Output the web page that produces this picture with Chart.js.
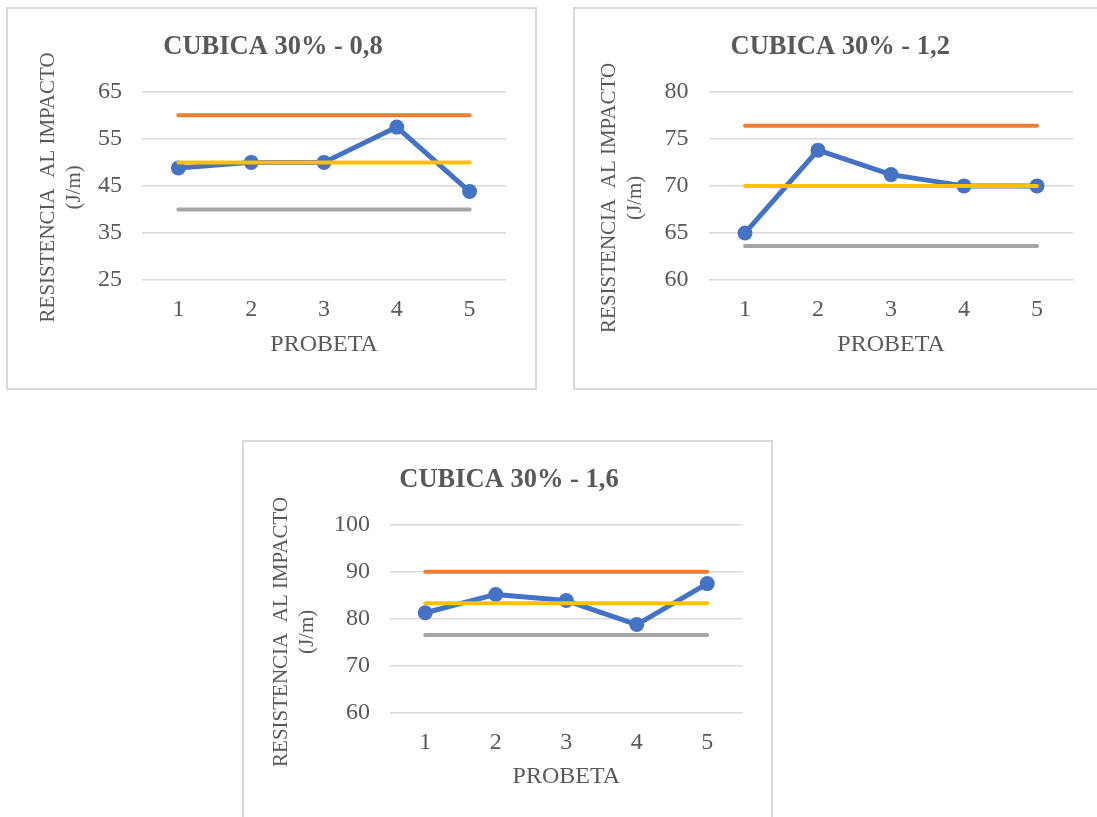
<!DOCTYPE html>
<html lang="es">
<head>
<meta charset="utf-8">
<title>Resistencia al impacto – Cúbica 30%</title>
<script src="https://cdn.jsdelivr.net/npm/chart.js@4.4.1/dist/chart.umd.min.js"></script>
<style>
  html, body { margin: 0; padding: 0; background: #fff; width: 1097px; height: 817px; overflow: hidden; }
  .marco { position: absolute; box-sizing: border-box; border: 2px solid #d9d9d9; background: #fff; }
  .marco canvas { position: absolute; left: 0; top: 0; }
</style>
</head>
<body>
<div class="marco" style="left:6px; top:7px; width:531px; height:383px;">
  <canvas id="g08" width="527" height="379"></canvas>
</div>
<div class="marco" style="left:573px; top:7px; width:531px; height:383px;">
  <canvas id="g12" width="527" height="379"></canvas>
</div>
<div class="marco" style="left:242px; top:440px; width:531px; height:383px;">
  <canvas id="g16" width="527" height="379"></canvas>
</div>

<script>
// Probetas ensayadas (eje X)
const probetas = ['1', '2', '3', '4', '5'];

// Cúbica 30% – 0,8
const resistencia08 = [48.8, 50.0, 50.0, 57.5, 43.8];
const limiteSup08   = [60.0, 60.0, 60.0, 60.0, 60.0];
const promedio08    = [50.0, 50.0, 50.0, 50.0, 50.0];
const limiteInf08   = [40.0, 40.0, 40.0, 40.0, 40.0];
const ejeY08        = [25, 35, 45, 55, 65];

// Cúbica 30% – 1,2
const resistencia12 = [65.0, 73.8, 71.2, 70.0, 70.0];
const limiteSup12   = [76.4, 76.4, 76.4, 76.4, 76.4];
const promedio12    = [70.0, 70.0, 70.0, 70.0, 70.0];
const limiteInf12   = [63.6, 63.6, 63.6, 63.6, 63.6];
const ejeY12        = [60, 65, 70, 75, 80];

// Cúbica 30% – 1,6
const resistencia16 = [81.3, 85.2, 83.9, 78.8, 87.5];
const limiteSup16   = [90.0, 90.0, 90.0, 90.0, 90.0];
const promedio16    = [83.3, 83.3, 83.3, 83.3, 83.3];
const limiteInf16   = [76.6, 76.6, 76.6, 76.6, 76.6];
const ejeY16        = [60, 70, 80, 90, 100];

const tituloEjeY = ['RESISTENCIA  AL IMPACTO', '(J/m)'];
const tituloEjeX = 'PROBETA';

const SERIF = "'Liberation Serif', 'Times New Roman', serif";
const GRIS_TEXTO = '#595959';

// Título del eje Y en dos líneas, girado 90°
const rotuloVertical = {
  id: 'rotuloVertical',
  afterDraw(chart, args, opts) {
    const { ctx, chartArea } = chart;
    const cy = (chartArea.top + chartArea.bottom) / 2 + opts.desplazamiento;
    ctx.save();
    ctx.font = '21px ' + SERIF;
    ctx.fillStyle = GRIS_TEXTO;
    ctx.textAlign = 'center';
    ctx.textBaseline = 'middle';
    tituloEjeY.forEach((linea, i) => {
      ctx.save();
      ctx.translate(opts.x + i * 26, cy);
      ctx.rotate(-Math.PI / 2);
      ctx.fillText(linea, 0, 0);
      ctx.restore();
    });
    ctx.restore();
  }
};

function serieHorizontal(etiqueta, datos, color, orden) {
  return {
    label: etiqueta,
    data: datos,
    borderColor: color,
    backgroundColor: color,
    borderWidth: 4,
    borderCapStyle: 'round',
    pointRadius: 0,
    pointHoverRadius: 0,
    tension: 0,
    order: orden
  };
}

function crearGrafico(id, titulo, valores, sup, prom, inf, ejeY, ajuste) {
  new Chart(document.getElementById(id), {
    type: 'line',
    data: {
      labels: probetas,
      datasets: [
        {
          label: 'Resistencia al impacto',
          data: valores,
          borderColor: '#4472C4',
          backgroundColor: '#4472C4',
          borderWidth: 5,
          borderJoinStyle: 'round',
          pointRadius: 7.5,
          pointHoverRadius: 7.5,
          pointBorderWidth: 0,
          tension: 0,
          order: 4
        },
        serieHorizontal('Límite superior', sup, '#ED7D31', 3),
        serieHorizontal('Promedio', prom, '#FFC000', 2),
        serieHorizontal('Límite inferior', inf, '#A5A5A5', 1)
      ]
    },
    options: {
      responsive: false,
      animation: false,
      devicePixelRatio: 1,
      layout: { padding: { left: ajuste.izq, right: ajuste.der, top: 0, bottom: 0 } },
      plugins: {
        legend: { display: false },
        tooltip: { enabled: false },
        title: {
          display: true,
          text: titulo,
          color: GRIS_TEXTO,
          font: { family: SERIF, size: 26.5, weight: 'bold', lineHeight: 1.2 },
          padding: { top: 22.5, bottom: 28.5 }
        },
        rotuloVertical: { x: ajuste.xTitulo, desplazamiento: ajuste.desplazamiento }
      },
      scales: {
        x: {
          type: 'category',
          offset: true,
          grid: { display: false },
          border: { display: false },
          ticks: { color: GRIS_TEXTO, font: { family: SERIF, size: 24 }, padding: 7.5 },
          title: {
            display: true,
            text: tituloEjeX,
            color: GRIS_TEXTO,
            font: { family: SERIF, size: 24, lineHeight: 1.2 },
            padding: { top: 0, bottom: ajuste.padTituloX }
          },
          afterFit(scale) { scale.height = 108; }
        },
        y: {
          min: ejeY[0],
          max: ejeY[ejeY.length - 1],
          grid: { color: '#d9d9d9', lineWidth: 1.5, drawTicks: false },
          border: { display: false },
          ticks: { color: GRIS_TEXTO, font: { family: SERIF, size: 24 }, padding: 20 },
          afterBuildTicks(scale) { scale.ticks = ejeY.map(v => ({ value: v })); },
          afterFit(scale) { scale.width = ajuste.anchoY; }
        }
      }
    },
    plugins: [rotuloVertical]
  });
}

crearGrafico('g08', 'CUBICA 30% - 0,8', resistencia08, limiteSup08, promedio08, limiteInf08, ejeY08,
  { izq: 32, der: 29, anchoY: 102, xTitulo: 40, desplazamiento: 1.5, padTituloX: 28.5 });
crearGrafico('g12', 'CUBICA 30% - 1,2', resistencia12, limiteSup12, promedio12, limiteInf12, ejeY12,
  { izq: 32, der: 28.5, anchoY: 101.5, xTitulo: 34, desplazamiento: 12, padTituloX: 28.5 });
crearGrafico('g16', 'CUBICA 30% - 1,6', resistencia16, limiteSup16, promedio16, limiteInf16, ejeY16,
  { izq: 31.5, der: 28.5, anchoY: 114.5, xTitulo: 37, desplazamiento: 13, padTituloX: 29.5 });
</script>
</body>
</html>
